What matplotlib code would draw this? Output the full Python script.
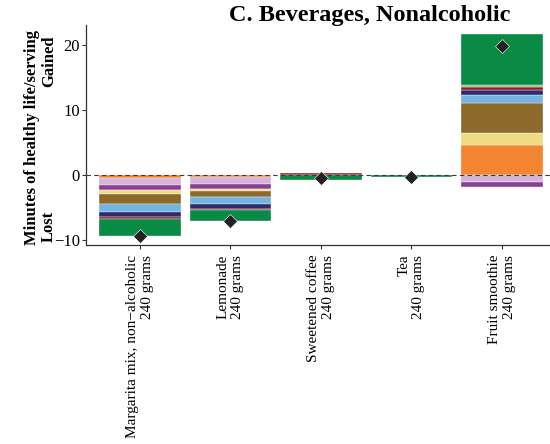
import numpy as np
import matplotlib
matplotlib.use("Agg")
import matplotlib.pyplot as plt

plt.rcParams['font.family'] = ['Liberation Serif', 'DejaVu Serif']

foods = ["Margarita mix, non\u2212alcoholic\n240 grams",
         "Lemonade\n240 grams",
         "Sweetened coffee\n240 grams",
         "Tea\n240 grams",
         "Fruit smoothie\n240 grams"]

# stacking order, from zero outwards
colors = ['#F4842F', '#D6B3D8', '#8A3F97', '#EEDC84', '#8B6A2C',
          '#74B4E1', '#2C2B70', '#961C22', '#84C27C', '#0A8B45']

margarita = [-0.45, -1.15, -0.77, -0.58, -1.52, -1.30, -0.70, -0.25, 0.0, -2.70]
lemonade  = [-0.28, -1.15, -0.80, -0.30, -0.82, -1.15, -0.72, -0.26, 0.0, -1.55]
coffee    = [0.0, 0.0, 0.0, 0.0, 0.0, 0.0, 0.0, 0.30, 0.0, -0.80]
tea       = [0.0, 0.0, 0.0, 0.0, 0.0, 0.0, 0.0, 0.0, 0.0, -0.30]
smoothie  = [4.60, -1.03, -0.86, 1.90, 4.60, 1.20, 0.80, 0.40, 0.30, 7.90]

values = [margarita, lemonade, coffee, tea, smoothie]

fig = plt.figure(figsize=(5.5, 4.44), dpi=100)
ax = fig.add_axes([0.1555, 0.4482, 0.856, 0.4955])

x = np.arange(len(foods))
for i, vals in enumerate(values):
    pos, neg = 0.0, 0.0
    for c, v in zip(colors, vals):
        if v == 0:
            continue
        if v > 0:
            ax.bar(i, v, bottom=pos, width=0.9, color=c, edgecolor='white', linewidth=0.25)
            pos += v
        else:
            ax.bar(i, v, bottom=neg, width=0.9, color=c, edgecolor='white', linewidth=0.25)
            neg += v

ax.axhline(0, color='#3a3a3a', linestyle=(0, (4, 3)), linewidth=0.8, zorder=3)

totals = [sum(v) for v in values]
ax.plot(x, totals, linestyle='none', marker='D', markersize=7.5, color='#222222',
        markeredgecolor='white', markeredgewidth=0.4, zorder=4)

ax.set_xlim(-0.6, 4.6)
ax.set_ylim(-10.8, 23.1)
ax.set_yticks([-10, 0, 10, 20])
ax.set_xticks(x)
ax.set_xticklabels(foods, rotation=90, ha='center', va='top', multialignment='right',
                   fontsize=11)
ax.tick_params(axis='y', labelsize=12, length=3, color='#333333', pad=1)
ax.tick_params(axis='x', length=3, color='#333333', pad=4)

for s in ['top', 'right']:
    ax.spines[s].set_visible(False)
for s in ['left', 'bottom']:
    ax.spines[s].set_color('#333333')
    ax.spines[s].set_linewidth(0.9)

fig.text(370 / 550, 1 - 15 / 444, "C. Beverages, Nonalcoholic", ha='center', va='center',
         fontsize=17.5, fontweight='bold')
fig.text(32 / 550, 1 - 137 / 444, "Minutes of healthy life/serving", rotation=90,
         ha='center', va='center', fontsize=12, fontweight='bold')
fig.text(49 / 550, 1 - 61 / 444, "Gained", rotation=90,
         ha='center', va='center', fontsize=12, fontweight='bold')
fig.text(49 / 550, 1 - 226 / 444, "Lost", rotation=90,
         ha='center', va='center', fontsize=12, fontweight='bold')

fig.savefig("out.png", dpi=100)
